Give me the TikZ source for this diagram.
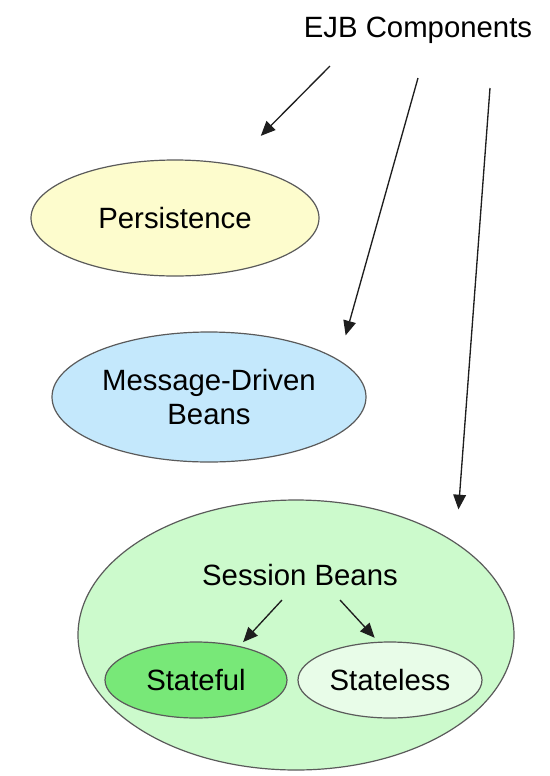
\documentclass[tikz,border=0pt]{standalone}
\usepackage{fontspec}
\setmainfont{Liberation Sans}
\usetikzlibrary{shapes.geometric,arrows.meta}
\tikzset{every picture/.style={line width=0.75pt}}
\tikzset{
  blob/.style={ellipse, draw={rgb, 255:red, 90; green, 90; blue, 90}, line width=0.9pt, inner sep=0pt, align=center, font=\fontsize{22}{26}\selectfont},
  lbl/.style={font=\fontsize{22}{26}\selectfont, inner sep=0pt},
  arr/.style={draw={rgb, 255:red, 30; green, 30; blue, 30}, line width=1pt, -{Triangle[length=11pt,width=9.5pt]}}
}

\begin{document}
\begin{tikzpicture}[x=0.75pt,y=0.75pt,yscale=-1,xscale=1]
		\path[use as bounding box] (0,0) rectangle (550,776);
		
		% Text Node
		\node[lbl] (ejb) at (418,30) {EJB Components};
		
		%Shape: Ellipse [persistence]
		\node[blob, fill={rgb, 255:red, 253; green, 252; blue, 205}, minimum width=216pt, minimum height=87pt] (pers) at (175,218) {Persistence};
		%Shape: Ellipse [message-driven]
		\node[blob, fill={rgb, 255:red, 196; green, 232; blue, 252}, minimum width=235.5pt, minimum height=97.5pt] (mdb) at (209,397) {Message-Driven\\Beans};
		%Shape: Ellipse [session]
		\node[blob, fill={rgb, 255:red, 204; green, 250; blue, 204}, minimum width=327pt, minimum height=202.5pt] (sess) at (296,635) {};
		% Text Node
		\node[lbl] (sb) at (300,575) {Session Beans};
		%Shape: Ellipse [stateful]
		\node[blob, fill={rgb, 255:red, 120; green, 232; blue, 120}, minimum width=136.5pt, minimum height=57pt] (sful) at (196,680) {Stateful};
		%Shape: Ellipse [stateless]
		\node[blob, fill={rgb, 255:red, 232; green, 252; blue, 232}, minimum width=138pt, minimum height=57pt] (sless) at (390,680) {Stateless};
		
		% Arrows
		\coordinate (e1) at (330,66);
		\coordinate (e2) at (418,78);
		\coordinate (e3) at (490,88);
		\coordinate (s1) at (282,600);
		\coordinate (s2) at (340,600);
		\draw[arr, shorten >=30pt] (e1) -- (pers.43);
		\draw[arr, shorten >=19pt] (e2) -- (mdb.16);
		\draw[arr, shorten >=25pt] (e3) -- (sess.30);
		\draw[arr, shorten >=4pt] (s1) -- (sful.38);
		\draw[arr, shorten >=4pt] (s2) -- (sless.107);
		
\end{tikzpicture}
\end{document}
